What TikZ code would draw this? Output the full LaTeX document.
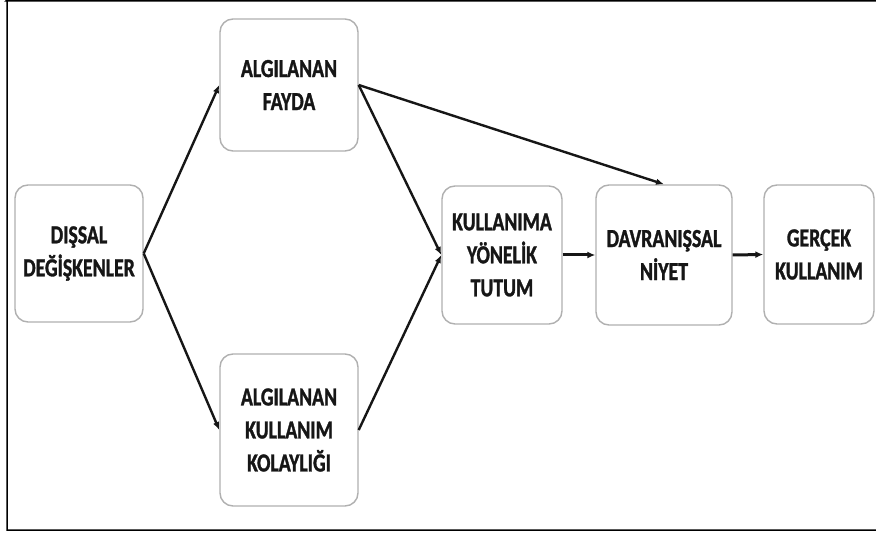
\documentclass[tikz,border=0pt]{standalone}
\usepackage{fontspec}
\newfontfamily\boxfont[FakeStretch=0.76, BoldFeatures={FakeBold=1.2}]{Carlito}
\usetikzlibrary{arrows.meta}
\definecolor{boxline}{HTML}{B0B0B0}
\definecolor{ink}{HTML}{161616}
\tikzset{
  modelbox/.style={draw=boxline, line width=1.4pt, fill=white, rounded corners=13pt,
    inner sep=0pt, align=center, text=ink,
    font=\boxfont\bfseries\fontsize{26pt}{33pt}\selectfont},
  link/.style={draw=ink, line width=2.4pt, -{Latex[length=8pt,width=6.5pt]}},
  hlink/.style={draw=ink, line width=3pt, -{Latex[length=8pt,width=7pt]}}
}
\begin{document}
\begin{tikzpicture}[x=1pt,y=-1pt]
\useasboundingbox (0,0) rectangle (876,534);
\fill[white] (0,0) rectangle (876,534);
\draw[line width=1.5pt, black] (876,1) -- (6,1) -- (7,0) -- (7,530) -- (876,530);

\node[modelbox, minimum width=128pt, minimum height=137pt] (dis) at (79,253.5) {DIŞSAL\\DEĞİŞKENLER};
\node[modelbox, minimum width=138pt, minimum height=132pt] (fayda) at (289,85) {ALGILANAN\\FAYDA};
\node[modelbox, minimum width=138pt, minimum height=152pt] (kol) at (289,430) {ALGILANAN\\KULLANIM\\KOLAYLIĞI};
\node[modelbox, minimum width=120pt, minimum height=138pt] (tutum) at (502,255) {KULLANIMA\\YÖNELİK\\TUTUM};
\node[modelbox, minimum width=136pt, minimum height=140pt] (niyet) at (664,255) {DAVRANIŞSAL\\NİYET};
\node[modelbox, minimum width=110pt, minimum height=139pt] (gercek) at (819,254.5) {GERÇEK\\KULLANIM};

\draw[link] (dis.east) -- (fayda.west);
\draw[link] (dis.east) -- (kol.west);
\draw[link] (fayda.east) -- (tutum.west);
\draw[link] (kol.east) -- (tutum.west);
\draw[link] (fayda.east) -- (niyet.north);
\draw[hlink] (tutum.east) -- (niyet.west);
\draw[hlink] (niyet.east) -- (gercek.west);
\end{tikzpicture}
\end{document}
